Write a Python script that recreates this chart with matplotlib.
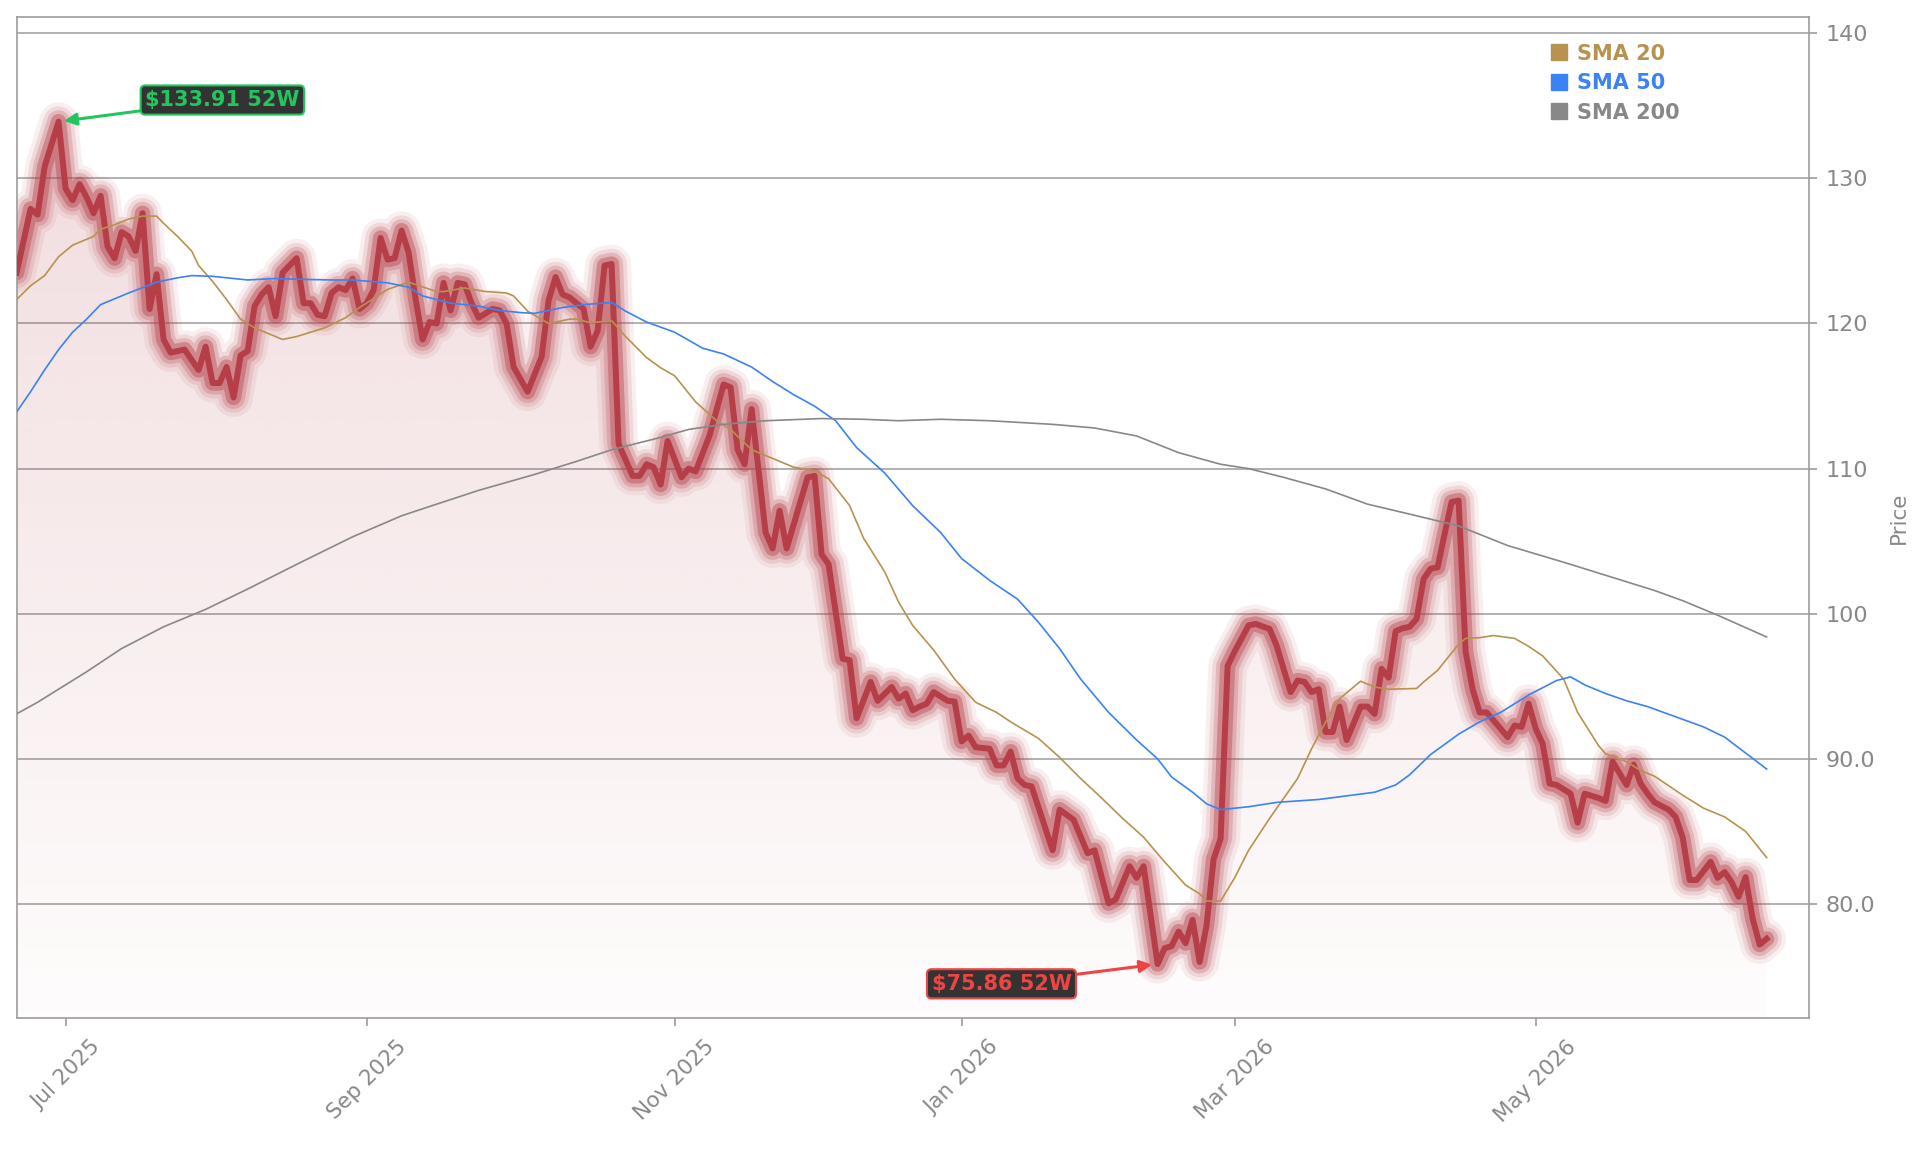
# Price chart with 20/50/200 day moving averages and 52 week high/low flags

import numpy as np
import pandas as pd
import matplotlib
matplotlib.use("Agg")
import matplotlib.pyplot as plt
from matplotlib.lines import Line2D
from matplotlib.path import Path
from matplotlib.patches import PathPatch
from matplotlib.ticker import FuncFormatter

# Trading sessions (NYSE holidays removed), x axis is the session number
holidays = ["2025-07-04", "2025-09-01", "2025-11-27", "2025-12-25",
            "2026-01-01", "2026-01-19", "2026-02-16", "2026-04-03",
            "2026-05-25", "2026-06-19"]
sessions = pd.bdate_range("2025-06-20", "2026-06-18", freq="C", holidays=holidays)
tick_months = ["2025-07-01", "2025-09-01", "2025-11-01",
               "2026-01-01", "2026-03-01", "2026-05-01"]

# Close price, read at the turning points of the line (session number, price)
close_day = [0, 2, 3, 4, 6, 7, 8, 9, 10, 11, 12, 13, 14, 15, 16, 17, 18, 19, 20,
             21, 22, 24, 25, 26, 27, 28, 29, 30, 31, 32, 33, 34, 35, 36, 37, 38,
             40, 41, 42, 43, 44, 45, 46, 47, 48, 49, 50, 51, 52, 53, 54, 55, 56,
             57, 58, 59, 60, 61, 62, 63, 64, 65, 66, 68, 69, 70, 71, 73, 75, 76,
             77, 78, 79, 81, 82, 83, 84, 85, 86, 88, 89, 90, 91, 92, 93, 95, 96,
             97, 99, 101, 102, 103, 104, 105, 107, 108, 109, 110, 113, 114, 115,
             116, 118, 119, 120, 122, 123, 125, 126, 127, 128, 129, 130, 131,
             133, 134, 135, 136, 137, 139, 140, 141, 142, 143, 144, 145, 148,
             149, 151, 153, 154, 156, 157, 159, 160, 161, 163, 164, 165, 166,
             167, 168, 169, 170, 171, 172, 173, 174, 175, 176, 177, 179, 180,
             182, 183, 184, 185, 186, 187, 188, 189, 190, 192, 193, 194, 195,
             196, 197, 198, 199, 200, 201, 202, 203, 204, 205, 206, 207, 208,
             209, 210, 211, 213, 214, 215, 216, 217, 218, 219, 220, 222, 223,
             224, 226, 227, 228, 230, 231, 232, 233, 234, 236, 237, 238, 239,
             240, 242, 243, 244, 245, 246, 247, 248, 249, 250]
close = [123.5, 127.9, 127.5, 130.8, 133.91, 129.3, 128.5, 129.6, 128.7, 127.6,
         128.8, 125.3, 124.5, 126.3, 126.0, 125.0, 127.6, 121.0, 123.4, 118.9,
         118.0, 118.2, 117.5, 116.8, 118.4, 115.9, 115.9, 117.0, 114.9, 117.8,
         118.1, 121.2, 122.0, 122.5, 120.5, 123.5, 124.5, 121.4, 121.4, 120.6,
         120.5, 122.1, 122.5, 122.3, 123.1, 121.0, 121.4, 122.3, 125.9, 124.4,
         124.5, 126.4, 124.9, 121.7, 118.9, 120.1, 120.0, 122.8, 120.9, 122.8,
         122.7, 121.4, 120.4, 121.0, 120.9, 120.0, 117.0, 115.3, 117.7, 121.6,
         123.2, 122.0, 121.8, 121.0, 118.4, 119.5, 124.0, 124.1, 111.7, 109.5,
         109.5, 110.3, 110.1, 108.9, 111.9, 109.4, 110.0, 109.8, 112.3, 115.8,
         115.6, 111.3, 110.3, 114.1, 105.6, 104.5, 107.1, 104.5, 109.4, 109.5,
         104.1, 103.4, 96.9, 96.8, 92.8, 95.3, 94.0, 94.95, 94.15, 94.5, 93.35,
         93.6, 93.8, 94.6, 94.0, 93.95, 91.2, 91.6, 90.8, 90.7, 89.55, 89.55,
         90.5, 88.65, 88.2, 88.1, 83.7, 86.5, 85.8, 83.5, 83.7, 80.05, 80.3,
         82.6, 81.8, 82.6, 75.86, 76.95, 77.1, 78.1, 77.3, 78.9, 76.0, 78.55,
         83.1, 84.5, 96.4, 97.4, 98.3, 99.2, 99.3, 98.95, 97.8, 94.6, 95.4,
         95.3, 94.6, 94.8, 91.85, 91.85, 93.6, 91.3, 93.6, 93.6, 93.1, 96.2,
         95.6, 98.8, 99.0, 99.1, 99.65, 102.4, 103.1, 103.2, 105.5, 107.7,
         107.8, 97.4, 94.8, 93.2, 93.2, 92.65, 91.5, 92.3, 92.2, 93.8, 92.1,
         91.05, 88.3, 88.2, 87.6, 85.6, 87.6, 87.3, 87.1, 89.8, 88.2, 89.6,
         88.3, 87.6, 87.0, 86.5, 86.0, 84.6, 81.65, 81.65, 82.9, 81.8, 82.2,
         81.5, 80.5, 81.85, 79.0, 77.2, 77.6]

sma20_day = [0, 2, 4, 6, 8, 11, 12, 14, 16, 18, 20, 21, 23, 25, 26, 28, 30, 32,
             34, 38, 40, 44, 47, 49, 53, 56, 60, 61, 64, 67, 70, 71, 73, 76, 79,
             80, 82, 85, 87, 90, 92, 94, 97, 100, 102, 105, 109, 111, 114, 116,
             119, 121, 124, 126, 128, 131, 134, 137, 140, 142, 146, 149, 152,
             155, 158, 161, 164, 167, 169, 170, 172, 174, 176, 179, 183, 185,
             187, 189, 192, 194, 196, 200, 201, 203, 206, 207, 209, 211, 214,
             216, 218, 221, 223, 226, 227, 230, 232, 234, 238, 241, 244, 247, 250]
sma20 = [121.65, 122.6, 123.3, 124.6, 125.4, 126.0, 126.5, 126.8, 127.2, 127.4,
         127.4, 126.9, 126.0, 125.0, 124.0, 122.9, 121.65, 120.3, 119.7, 118.9,
         119.1, 119.7, 120.4, 121.1, 122.35, 122.85, 122.2, 122.2, 122.45,
         122.2, 122.1, 121.9, 120.85, 120.0, 120.3, 120.3, 120.05, 120.2, 119.1,
         117.65, 116.95, 116.4, 114.6, 113.3, 112.7, 111.3, 110.5, 110.1,
         109.85, 109.3, 107.45, 105.2, 102.9, 100.8, 99.2, 97.5, 95.5, 93.9,
         93.2, 92.55, 91.4, 90.1, 88.65, 87.3, 85.9, 84.6, 82.9, 81.3, 80.7,
         80.2, 80.2, 81.8, 83.7, 85.9, 88.65, 90.7, 92.55, 94.15, 95.35, 94.95,
         94.8, 94.85, 95.3, 96.1, 97.9, 98.3, 98.35, 98.5, 98.3, 97.75, 97.1,
         95.5, 93.2, 90.9, 90.35, 89.8, 89.2, 88.8, 87.5, 86.6, 86.0, 85.0, 83.2]

sma50_day = [0, 2, 4, 6, 8, 10, 12, 16, 20, 23, 25, 28, 31, 33, 37, 40, 45, 48, 53,
             56, 58, 62, 66, 69, 72, 74, 78, 81, 85, 87, 90, 94, 98, 101, 105,
             108, 111, 114, 117, 120, 124, 128, 132, 135, 139, 143, 146, 149,
             152, 156, 160, 163, 165, 168, 170, 172, 176, 180, 186, 190, 194,
             197, 199, 202, 206, 209, 212, 216, 220, 222, 224, 227, 230, 233,
             237, 241, 244, 247, 250]
sma50 = [113.9, 115.3, 116.8, 118.2, 119.4, 120.3, 121.3, 122.1, 122.85, 123.15, 123.3,
         123.25, 123.1, 123.0, 123.1, 123.05, 123.0, 123.0, 122.8, 122.5, 121.9,
         121.4, 121.2, 120.9, 120.75, 120.7, 121.1, 121.3, 121.45, 120.85,
         120.1, 119.4, 118.3, 117.9, 117.0, 116.0, 115.1, 114.3, 113.3, 111.45,
         109.7, 107.45, 105.6, 103.8, 102.3, 101.0, 99.4, 97.6, 95.5, 93.2,
         91.3, 90.0, 88.75, 87.7, 86.9, 86.5, 86.7, 87.0, 87.2, 87.45, 87.7,
         88.2, 88.9, 90.3, 91.7, 92.55, 93.2, 94.4, 95.4, 95.65, 95.1, 94.5,
         94.0, 93.6, 92.9, 92.2, 91.5, 90.4, 89.3]

sma200_day = [0, 3, 10, 15, 21, 27, 33, 40, 48, 55, 60, 66, 74, 80, 85, 92, 96,
              101, 107, 115, 121, 126, 132, 139, 148, 154, 160, 166, 172, 176,
              181, 187, 193, 200, 206, 213, 221, 228, 234, 238, 243, 250]
sma200 = [93.1, 93.9, 96.0, 97.6, 99.1, 100.3, 101.7, 103.4, 105.3, 106.75,
          107.55, 108.5, 109.6, 110.5, 111.3, 112.15, 112.7, 113.05, 113.3,
          113.45, 113.4, 113.3, 113.4, 113.3, 113.05, 112.8, 112.25, 111.1,
          110.3, 110.0, 109.4, 108.6, 107.55, 106.75, 106.05, 104.7, 103.55,
          102.5, 101.6, 100.9, 99.9, 98.4]

sma_labels = ["SMA 20", "SMA 50", "SMA 200"]
sma_colors = ["#b8924f", "#3b82f6", "#888888"]

price_color = "#b53e48"
high_color = "#22c55e"
low_color = "#ef4444"
grid_color = "#9c9c9c"
text_color = "#888888"

y_lo, y_hi = 72.12, 141.14

fig = plt.figure(figsize=(19.29, 11.53), dpi=100)
ax = fig.add_axes([0.0086, 0.1168, 0.929, 0.8687])

# gradient fill under the price line
rgba = np.zeros((256, 1, 4))
rgba[..., :3] = matplotlib.colors.to_rgb(price_color)
rgba[..., 3] = np.linspace(0.015, 0.2, 256)[:, None]
img = ax.imshow(rgba, extent=[close_day[0], close_day[-1], y_lo, y_hi],
                origin="lower", aspect="auto", zorder=1, interpolation="bilinear")
verts = list(zip(close_day, close)) + [(close_day[-1], y_lo), (close_day[0], y_lo)]
clip = PathPatch(Path(verts), facecolor="none", edgecolor="none", transform=ax.transData)
ax.add_patch(clip)
img.set_clip_path(clip)

# glow around the price line (stacked translucent strokes)
for lw, a in [(28, 0.08), (22, 0.13), (16.5, 0.22), (11, 0.4)]:
    ax.plot(close_day, close, color=price_color, lw=lw, alpha=a,
            solid_joinstyle="round", solid_capstyle="round", zorder=2)
ax.plot(close_day, close, color=price_color, lw=4.3, zorder=3)

for d, v, c in zip([sma20_day, sma50_day, sma200_day], [sma20, sma50, sma200], sma_colors):
    ax.plot(d, v, color=c, lw=1.2, zorder=4)

# 52 week high / low flags
i_hi = int(np.argmax(close))
i_lo = int(np.argmin(close))
ax.annotate(f"${close[i_hi]:.2f} 52W", xy=(close_day[i_hi], close[i_hi]),
            xytext=(29.4, 135.4), ha="center", va="center",
            fontsize=15, fontweight="bold", color=high_color, zorder=6,
            bbox=dict(boxstyle="round,pad=0.22", fc="#333333", ec=high_color, lw=1.5),
            arrowprops=dict(arrowstyle="-|>", color=high_color, lw=2.2,
                            mutation_scale=18, shrinkA=0, shrinkB=4))
ax.annotate(f"${close[i_lo]:.2f} 52W", xy=(close_day[i_lo], close[i_lo]),
            xytext=(140.7, 74.5), ha="center", va="center",
            fontsize=15, fontweight="bold", color=low_color, zorder=6,
            bbox=dict(boxstyle="round,pad=0.22", fc="#333333", ec=low_color, lw=1.5),
            arrowprops=dict(arrowstyle="-|>", color=low_color, lw=2.2,
                            mutation_scale=18, shrinkA=0, shrinkB=4))

ax.set_xlim(0, 256)
ax.set_ylim(y_lo, y_hi)

# axes styling
ax.yaxis.tick_right()
ax.yaxis.set_label_position("right")
ax.set_yticks([80, 90, 100, 110, 120, 130, 140])
ax.yaxis.set_major_formatter(FuncFormatter(lambda v, p: f"{v:.1f}" if v < 100 else f"{v:.0f}"))
ax.set_ylabel("Price", color=text_color, fontsize=15.5, labelpad=10)

tick_pos = [int(sessions.searchsorted(pd.Timestamp(m))) for m in tick_months]
ax.set_xticks(tick_pos)
ax.set_xticklabels([sessions[i].strftime("%b %Y") for i in tick_pos], rotation=45)

ax.tick_params(axis="both", colors=grid_color, labelcolor=text_color,
               length=6, width=1.2, labelsize=16)
ax.tick_params(axis="x", labelsize=15.5, pad=7)
ax.tick_params(axis="y", pad=6)
ax.grid(axis="y", color=grid_color, lw=1.1)
ax.set_axisbelow(True)
for s in ax.spines.values():
    s.set_color(grid_color)
    s.set_linewidth(1.2)

handles = [Line2D([], [], marker="s", ls="none", markersize=11.5,
                  markerfacecolor=c, markeredgecolor=c) for c in sma_colors]
leg = fig.legend(handles, sma_labels, loc="upper left",
                 bbox_to_anchor=(0.8039, 0.9622), bbox_transform=fig.transFigure,
                 frameon=False, borderpad=0, borderaxespad=0, handlelength=0.8,
                 handletextpad=0.47, labelspacing=0.46,
                 prop={"weight": "bold", "size": 15})
for t, c in zip(leg.get_texts(), sma_colors):
    t.set_color(c)

fig.savefig("out.png", dpi=100)
